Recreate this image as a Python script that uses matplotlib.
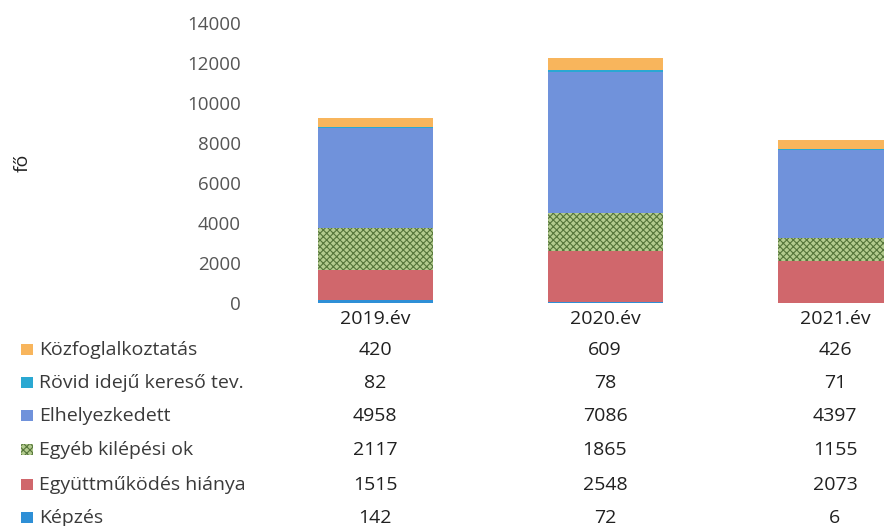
import matplotlib.pyplot as plt
from matplotlib.patches import Rectangle
from matplotlib.transforms import blended_transform_factory

plt.rcParams['font.family'] = ['Open Sans', 'DejaVu Sans']
plt.rcParams['hatch.linewidth'] = 0.8

years = ["2019.év", "2020.év", "2021.év"]

# stack order bottom -> top
series = ["Képzés", "Együttműködés hiánya", "Egyéb kilépési ok",
          "Elhelyezkedett", "Rövid idejű kereső tev.", "Közfoglalkoztatás"]
kepzes = [142, 72, 6]
egyuttmukodes = [1515, 2548, 2073]
egyeb = [2117, 1865, 1155]
elhelyezkedett = [4958, 7086, 4397]
rovid = [82, 78, 71]
kozfog = [420, 609, 426]

values = [kepzes, egyuttmukodes, egyeb, elhelyezkedett, rovid, kozfog]
colors = ["#2E8FD6", "#D0676C", "#B3CB8E", "#7092DB", "#2AA8D2", "#F8B55C"]
hatches = [None, None, "xxxxx", None, None, None]
hatch_colors = [None, None, "#55753A", None, None, None]

text_color = "#3A3A3A"

fig = plt.figure(figsize=(8.84, 5.26), dpi=100)
ax = fig.add_axes([260 / 884, 1 - 303 / 526, 690 / 884, 280 / 526])

x = list(range(len(years)))
bottom = [0] * len(years)
for vals, c, h, hc in zip(values, colors, hatches, hatch_colors):
    if h:
        ax.bar(x, vals, 0.5, bottom=bottom, color=c, edgecolor=hc,
               hatch=h, linewidth=0)
    else:
        ax.bar(x, vals, 0.5, bottom=bottom, color=c, linewidth=0)
    bottom = [b + v for b, v in zip(bottom, vals)]

ax.set_xlim(-0.5, 2.5)
ax.set_ylim(0, 14000)
ax.set_yticks(range(0, 14001, 2000))
ax.tick_params(axis='y', length=0, labelsize=13.5, labelcolor="#555555", pad=14)
ax.set_xticks([])
for s in ax.spines.values():
    s.set_visible(False)

fig.text(23 / 884, 1 - 163 / 526, "fő", rotation=90, ha='center',
         va='center', fontsize=14, color="#222222")

# data table under the bars
trans = blended_transform_factory(ax.transData, fig.transFigure)
for i, yr in enumerate(years):
    ax.text(i, 1 - 319 / 526, yr, transform=trans, ha='center',
            va='center', fontsize=14, color="#202020", clip_on=False)

row_y = [350, 383, 416, 450, 485, 518]
for r, k in enumerate(range(len(series) - 1, -1, -1)):
    yf = 1 - row_y[r] / 526
    sq = Rectangle((21 / 884, yf - 5 / 526), 12 / 884, 11 / 526,
                   transform=fig.transFigure, facecolor=colors[k],
                   edgecolor=hatch_colors[k] if hatches[k] else 'none',
                   hatch=hatches[k], linewidth=0)
    fig.add_artist(sq)
    fig.text(39 / 884, yf, series[k], ha='left', va='center',
             fontsize=14, color=text_color)
    for i in x:
        ax.text(i, yf, str(values[k][i]), transform=trans, ha='center',
                va='center', fontsize=14, color="#202020", clip_on=False)

fig.savefig("out.png", dpi=100)
